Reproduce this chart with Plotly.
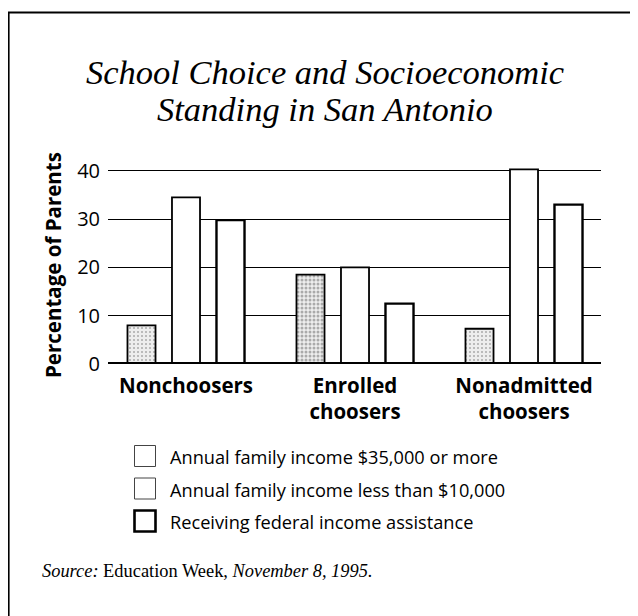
import plotly.graph_objects as go

# ---- data ----
categories = ["Nonchoosers", "Enrolled<br>choosers", "Nonadmitted<br>choosers"]
series_names = [
    "Annual family income $35,000 or more",
    "Annual family income less than $10,000",
    "Receiving federal income assistance",
]
income_35k_plus = [8, 18.5, 7.3]
income_under_10k = [34.5, 20, 40.3]
federal_assistance = [29.8, 12.5, 33]
y_ticks = [0, 10, 20, 30, 40]

title_lines = ["School Choice and Socioeconomic", "Standing in San Antonio"]
source_text = "<i>Source:</i> Education Week, <i>November 8, 1995.</i>"
y_title = "Percentage of Parents"

# ---- layout geometry (reference pixels; page body adds an 8px offset) ----
W, H = 638, 616
OFF = 8
L, R = 108, 601          # plot area left/right
T, B = 166, 364          # plot area top/bottom

def px(xp):
    return (xp - L) / (R - L)

def py(yp):
    return (B - yp) / (B - T)

x_pos = list(range(len(categories)))
unit = 169.0
x0 = 186.0
x_range = [(L - x0) / unit, (R - x0) / unit]

SANS = "Open Sans, Noto Sans, sans-serif"
SERIF = "Liberation Serif, Times New Roman, serif"
CAT_SIZE = 20.5

fig = go.Figure()
fig.add_trace(go.Bar(
    x=x_pos, y=income_35k_plus, name=series_names[0],
    marker=dict(color="#eeeeee", line=dict(color="black", width=1.8),
                pattern=dict(shape=".", fgcolor="#666666", size=4,
                             solidity=[0.2, 0.45, 0.2])),
))
fig.add_trace(go.Bar(
    x=x_pos, y=income_under_10k, name=series_names[1],
    marker=dict(color="white", line=dict(color="black", width=1.8)),
))
fig.add_trace(go.Bar(
    x=x_pos, y=federal_assistance, name=series_names[2],
    marker=dict(color="white", line=dict(color="black", width=2.4)),
))

shapes = []
annotations = []

# frame (top and left lines)
shapes.append(dict(type="line", xref="paper", yref="paper",
                   x0=px(8), x1=px(660), y0=py(12.5), y1=py(12.5),
                   line=dict(color="black", width=2.2)))
shapes.append(dict(type="line", xref="paper", yref="paper",
                   x0=px(8.5), x1=px(8.5), y0=py(12), y1=py(640),
                   line=dict(color="black", width=2.2)))
# baseline
shapes.append(dict(type="line", xref="paper", yref="y",
                   x0=0, x1=1, y0=0, y1=0, layer="above",
                   line=dict(color="black", width=4)))

# custom legend
legend_rows = [456, 488.5, 521]
legend_line_w = [1.0, 1.0, 2.6]
legend_line_c = ["#444444", "#444444", "black"]
for name, yc, lw, lc in zip(series_names, legend_rows, legend_line_w, legend_line_c):
    shapes.append(dict(type="rect", xref="paper", yref="paper",
                       x0=px(134.5), x1=px(155.5), y0=py(yc - 10.5), y1=py(yc + 10.5),
                       fillcolor="white", line=dict(color=lc, width=lw)))
    annotations.append(dict(xref="paper", yref="paper", x=px(168), y=py(yc + 1),
                            xanchor="left", yanchor="middle", showarrow=False,
                            text=name, font=dict(family=SANS, size=18.2, color="black")))

# title (two lines)
for line, yc in zip(title_lines, [72, 109]):
    annotations.append(dict(xref="paper", yref="paper", x=px(325), y=py(yc),
                            xanchor="center", yanchor="middle", showarrow=False,
                            text="<i>" + line + "</i>",
                            font=dict(family=SERIF, size=34.5, color="black")))
# source
annotations.append(dict(xref="paper", yref="paper", x=px(40), y=py(571),
                        xanchor="left", yanchor="middle", showarrow=False,
                        text=source_text,
                        font=dict(family=SERIF, size=18.4, color="black")))
# y axis title
annotations.append(dict(xref="paper", yref="paper", x=px(53), y=py(265),
                        xanchor="center", yanchor="middle", showarrow=False,
                        text="<b>" + y_title + "</b>", textangle=-90,
                        font=dict(family=SANS, size=20.5, color="black")))

fig.update_layout(
    width=W, height=H,
    margin=dict(l=L - OFF, r=W - (R - OFF), t=T - OFF, b=H - (B - OFF), pad=0),
    paper_bgcolor="white", plot_bgcolor="white",
    barmode="group", bargap=0.21, bargroupgap=0.37,
    showlegend=False,
    shapes=shapes, annotations=annotations,
    xaxis=dict(range=x_range, tickvals=x_pos,
               ticktext=["<b>" + c.replace("<br>", "</b><br><b>") + "</b>" for c in categories],
               tickfont=dict(family=SANS, size=CAT_SIZE, color="black"),
               showgrid=False, zeroline=False, showline=False, ticks="",
               ticklabelstandoff=7, fixedrange=True),
    yaxis=dict(range=[0, 41], tickvals=y_ticks,
               tickfont=dict(family=SANS, size=20, color="black"),
               showgrid=True, gridcolor="black", gridwidth=1.4,
               zeroline=False, showline=False, ticks="",
               ticklabelstandoff=7, fixedrange=True),
)
fig.update_yaxes(tickprefix="<b>", ticksuffix="</b>")

fig.write_html("out.html")
